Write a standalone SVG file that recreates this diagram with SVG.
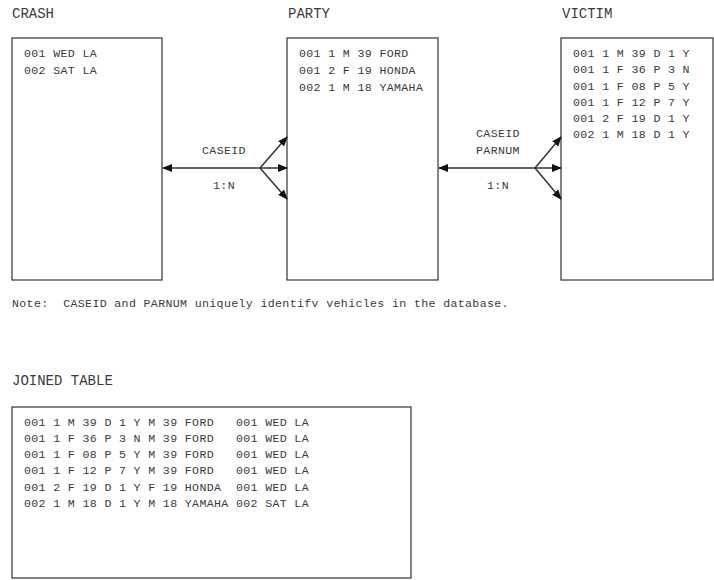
<svg xmlns="http://www.w3.org/2000/svg" width="714" height="580" viewBox="0 0 714 580">
<style>
text{font-family:"Liberation Mono","Courier New",monospace;fill:#3a3a3a}
.t{font-size:14px}
.r{font-size:11.6px;letter-spacing:0.35px}
.c{font-size:11.6px;letter-spacing:0.35px;text-anchor:middle}
.box{fill:#fff;stroke:#333;stroke-width:1.2}
.ln{stroke:#333;stroke-width:1.5;fill:none}
</style>
<defs>
<marker id="ah" markerWidth="10" markerHeight="10" refX="9" refY="5" orient="auto" markerUnits="userSpaceOnUse">
<path d="M0,1 L10,5 L0,9 Z" fill="#111"/>
</marker>
</defs>
<rect width="714" height="580" fill="#fff"/>
<g id="crash">
<text class="t" x="12" y="18">CRASH</text>
<rect class="box" x="12" y="38" width="150" height="242"/>
<text class="r" x="24" y="57">001 WED LA</text>
<text class="r" x="24" y="74">002 SAT LA</text>
</g>
<g id="party">
<text class="t" x="288" y="18">PARTY</text>
<rect class="box" x="287" y="38" width="151" height="242"/>
<text class="r" x="299" y="57">001 1 M 39 FORD</text>
<text class="r" x="299" y="74">001 2 F 19 HONDA</text>
<text class="r" x="299" y="91">002 1 M 18 YAMAHA</text>
</g>
<g id="victim">
<text class="t" x="562" y="18">VICTIM</text>
<rect class="box" x="561" y="38" width="152" height="242"/>
<text class="r" x="573" y="57">001 1 M 39 D 1 Y</text>
<text class="r" x="573" y="73">001 1 F 36 P 3 N</text>
<text class="r" x="573" y="90">001 1 F 08 P 5 Y</text>
<text class="r" x="573" y="106">001 1 F 12 P 7 Y</text>
<text class="r" x="573" y="122">001 2 F 19 D 1 Y</text>
<text class="r" x="573" y="138">002 1 M 18 D 1 Y</text>
</g>
<g id="note">
<text class="r" x="12" y="307" xml:space="preserve">Note:  CASEID and PARNUM uniquely identifv vehicles in the database.</text>
</g>
<g id="joined">
<text class="t" x="12" y="385">JOINED TABLE</text>
<rect class="box" x="12" y="407" width="399" height="171"/>
<text class="r" x="24" y="426" xml:space="preserve">001 1 M 39 D 1 Y M 39 FORD   001 WED LA</text>
<text class="r" x="24" y="442" xml:space="preserve">001 1 F 36 P 3 N M 39 FORD   001 WED LA</text>
<text class="r" x="24" y="458" xml:space="preserve">001 1 F 08 P 5 Y M 39 FORD   001 WED LA</text>
<text class="r" x="24" y="474" xml:space="preserve">001 1 F 12 P 7 Y M 39 FORD   001 WED LA</text>
<text class="r" x="24" y="491" xml:space="preserve">001 2 F 19 D 1 Y F 19 HONDA  001 WED LA</text>
<text class="r" x="24" y="507" xml:space="preserve">002 1 M 18 D 1 Y M 18 YAMAHA 002 SAT LA</text>
</g>
<g id="connectors">
<line class="ln" x1="260" y1="168" x2="163" y2="168" marker-end="url(#ah)"/>
<line class="ln" x1="260" y1="168" x2="287" y2="168" marker-end="url(#ah)"/>
<line class="ln" x1="260" y1="168" x2="287" y2="137" marker-end="url(#ah)"/>
<line class="ln" x1="260" y1="168" x2="287" y2="199" marker-end="url(#ah)"/>
<text class="c" x="224" y="154">CASEID</text>
<text class="c" x="224" y="189">1:N</text>
<line class="ln" x1="535" y1="168" x2="439" y2="168" marker-end="url(#ah)"/>
<line class="ln" x1="535" y1="168" x2="561" y2="168" marker-end="url(#ah)"/>
<line class="ln" x1="535" y1="168" x2="561" y2="137" marker-end="url(#ah)"/>
<line class="ln" x1="535" y1="168" x2="561" y2="199" marker-end="url(#ah)"/>
<text class="c" x="498" y="137">CASEID</text>
<text class="c" x="498" y="154">PARNUM</text>
<text class="c" x="498" y="189">1:N</text>
</g>
</svg>
